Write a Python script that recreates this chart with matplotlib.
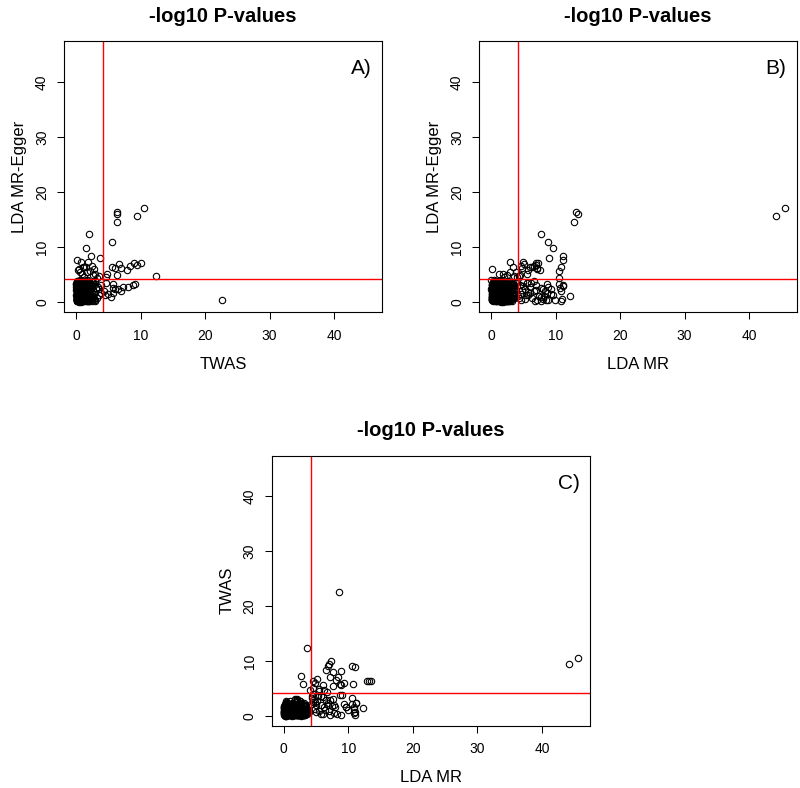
import matplotlib
matplotlib.use("Agg")
import matplotlib.pyplot as plt
import numpy as np

plt.rcParams['font.family'] = ['Liberation Sans', 'DejaVu Sans']

# -log10 p-values for each gene
# strongest genes
twas_top = [10.6, 9.5, 6.4, 6.4, 6.3, 2.0, 5.6, 1.6, 22.6, 12.4, 1.4]
mr_top = [45.6, 44.1, 13.2, 13.5, 12.9, 7.8, 8.8, 9.6, 8.5, 3.6, 12.3]
egger_top = [17.0, 15.7, 16.3, 15.9, 14.5, 12.4, 10.9, 9.8, 0.4, 4.8, 1.0]

# moderate genes
twas_mid = [2.3, 3.7, 0.1, 0.8, 1.3, 2.1, 0.4, 1.9, 1.0, 0.6,
            2.6, 3.0, 1.5, 0.3, 2.8, 3.3, 1.2, 0.9, 2.5, 1.7,
            3.5, 10.0, 9.4, 9.0, 8.3, 7.9, 7.0, 6.7, 6.0, 5.6,
            6.4, 4.6, 4.8, 7.2, 5.7, 9.1, 8.8, 8.1, 7.0, 6.5,
            5.7, 5.7, 6.0, 4.7, 4.5, 5.0, 4.3, 5.4, 1.6, 2.3,
            1.6, 0.1, 0.5, 0.7, 0.2, 0.4, 0.3, 3.8, 3.1, 2.2,
            1.0, 2.0, 3.4, 2.7, 1.3, 3.9, 0.9, 2.4, 1.8, 3.2,
            0.6, 2.9, 1.1, 3.6, 2.5, 0.8, 1.5, 3.5, 2.1, 0.3,
            1.9, 3.0]
mr_mid = [11.2, 9.0, 11.1, 2.9, 10.8, 10.6, 0.1, 5.0, 3.4, 3.9,
          2.5, 1.8, 6.3, 5.8, 7.1, 10.5, 2.0, 1.2, 4.6, 3.0,
          4.4, 7.3, 7.0, 6.9, 6.6, 7.6, 7.2, 5.1, 4.8, 6.0,
          4.5, 4.1, 5.5, 2.6, 3.0, 10.5, 11.1, 8.8, 8.4, 8.1,
          8.7, 10.7, 9.3, 6.2, 5.4, 4.6, 6.7, 7.7, 10.8, 11.2,
          9.6, 8.9, 10.9, 11.0, 7.2, 7.8, 8.2, 8.7, 7.7, 9.3,
          6.4, 5.8, 6.1, 5.2, 4.8, 4.5, 5.5, 6.8, 7.4, 4.3,
          5.0, 6.6, 9.9, 5.7, 4.9, 7.0, 8.0, 5.3, 4.2, 6.0,
          6.9, 4.7]
egger_mid = [8.4, 7.9, 7.6, 7.3, 6.4, 5.6, 5.9, 7.2, 6.3, 5.5,
             4.9, 5.1, 6.3, 5.8, 5.9, 4.4, 4.6, 5.0, 6.6, 5.4,
             4.7, 7.1, 6.7, 7.0, 6.5, 5.8, 6.2, 6.9, 6.1, 6.4,
             4.9, 4.5, 5.1, 2.8, 1.6, 3.3, 3.1, 2.8, 2.0, 2.3,
             3.2, 2.6, 2.4, 3.5, 1.2, 1.5, 2.0, 0.9, 1.9, 2.9,
             1.2, 0.3, 0.2, 0.6, 0.4, 0.1, 1.0, 1.7, 2.5, 1.4,
             0.8, 1.8, 2.7, 0.5, 2.2, 3.1, 3.4, 0.2, 1.1, 0.7,
             2.9, 3.8, 0.4, 1.3, 3.6, 2.1, 0.6, 2.4, 1.0, 1.6,
             3.0, 0.3]

# bulk of genes near the origin (the solid black blob)
twas_bulk = [0.1, 0.3, 0.5, 0.2, 0.8, 1.2, 0.4, 0.6, 1.5, 0.9,
             0.2, 0.7, 1.1, 0.3, 1.8, 0.5, 0.1, 2.2, 0.6, 1.4,
             0.9, 0.4, 0.2, 1.0, 2.6, 0.3, 0.7, 1.3, 0.1, 0.5,
             1.7, 0.8, 0.2, 0.6, 1.1, 0.4, 2.0, 0.3, 0.9, 0.1,
             0.5, 1.6, 0.2, 0.7, 0.4, 1.2, 0.8, 2.4, 0.3, 0.6,
             1.0, 0.2, 0.5, 1.9, 0.1, 0.8, 0.4, 1.4, 0.6, 2.9,
             0.3, 0.9, 0.2, 1.1, 0.5, 0.7, 1.5, 0.1, 0.4, 2.1,
             0.6, 0.3, 1.3, 0.8, 0.2, 1.0, 0.5, 1.7, 0.1, 0.4,
             2.5, 0.7, 0.3, 1.2, 0.9, 0.2, 0.6, 1.6, 0.4, 0.1,
             0.8, 3.1, 0.5, 0.3, 1.4, 0.7, 2.3, 0.2, 1.0, 0.6,
             0.0, 0.4, 1.1, 0.2, 1.9, 0.7, 0.1, 1.4, 0.5, 2.3,
             0.3, 0.9, 1.6, 0.1, 0.5, 1.2, 0.3, 2.0, 0.8, 0.2,
             1.5, 0.6, 2.4, 0.4, 0.1, 1.0, 0.3, 1.7, 0.6, 0.2,
             0.9, 2.1, 0.5, 1.3, 0.0, 0.7, 1.8, 0.2, 0.4, 1.1,
             0.3, 2.6, 0.8, 0.1, 1.5, 0.5, 0.2, 1.2, 0.9, 0.4,
             2.2, 0.6, 0.1, 1.0, 0.3, 1.7, 0.7, 0.2, 2.8, 0.5,
             0.1, 1.3, 0.4, 0.9, 2.0, 0.2, 0.6, 1.5, 0.3, 0.8,
             1.1, 0.0, 2.4, 0.5, 0.2, 1.8, 0.7, 0.4, 1.3, 0.1,
             0.6, 1.6, 0.3, 2.1, 0.9, 0.1, 0.5, 1.0, 0.2, 1.4,
             0.4, 0.8, 1.9, 0.2, 0.7, 2.5, 0.1, 1.2, 0.6, 0.3,
             1.7, 0.5, 0.2, 1.1, 0.4, 0.9, 2.3, 0.0, 0.8, 1.5,
             0.2, 1.0, 0.6, 2.7, 0.3, 1.4, 0.1, 0.7, 1.9, 0.5,
             0.9, 0.3, 1.6, 0.1, 2.2, 0.6, 1.2, 0.4, 0.2, 1.0,
             0.5, 1.8, 0.2, 0.8, 1.3, 0.0, 2.0, 0.6, 1.1, 0.3,
             2.6, 0.4, 0.9, 1.5, 0.1, 0.7, 0.3, 1.7, 0.5, 1.2]
mr_bulk = [0.2, 1.1, 0.5, 2.3, 0.8, 0.1, 1.7, 3.0, 0.4, 1.3,
           2.6, 0.6, 0.3, 1.9, 0.9, 3.4, 0.2, 1.2, 2.1, 0.7,
           0.1, 1.5, 2.8, 0.4, 1.0, 3.2, 0.6, 2.0, 1.4, 0.3,
           0.9, 2.4, 0.5, 1.6, 3.6, 0.2, 0.7, 1.8, 2.9, 1.1,
           0.4, 0.8, 2.2, 0.1, 3.3, 1.0, 1.9, 0.5, 2.7, 0.3,
           1.5, 0.9, 3.1, 0.2, 2.0, 0.6, 1.2, 2.5, 0.4, 1.7,
           3.5, 0.1, 1.3, 0.7, 2.3, 0.3, 0.9, 1.8, 2.6, 0.5,
           1.0, 2.9, 0.2, 1.4, 0.6, 3.7, 0.8, 1.1, 2.2, 0.4,
           0.3, 1.6, 3.0, 0.5, 1.9, 0.7, 2.4, 0.1, 1.2, 3.3,
           0.6, 2.1, 1.5, 0.2, 0.8, 2.7, 0.4, 1.3, 0.9, 3.8,
           0.3, 2.1, 1.0, 3.2, 0.6, 1.7, 2.8, 0.1, 1.3, 2.4,
           0.8, 3.5, 1.9, 0.4, 2.6, 1.1, 3.0, 0.2, 1.5, 2.2,
           0.7, 2.9, 1.2, 3.4, 0.5, 1.8, 2.5, 0.0, 1.4, 3.1,
           0.9, 2.0, 1.6, 0.3, 2.7, 1.0, 3.3, 0.6, 2.3, 1.2,
           3.6, 0.4, 1.7, 2.6, 0.1, 1.1, 2.9, 0.8, 2.0, 1.5,
           0.2, 3.0, 1.3, 2.4, 0.5, 1.9, 3.2, 0.9, 2.1, 0.6,
           1.6, 2.8, 0.3, 1.0, 3.5, 0.7, 2.2, 1.4, 0.1, 2.6,
           1.8, 0.4, 3.1, 1.2, 2.5, 0.8, 1.5, 3.4, 0.2, 2.0,
           1.1, 2.7, 0.6, 1.9, 3.0, 0.3, 2.3, 1.3, 0.9, 3.3,
           0.5, 1.7, 2.9, 0.1, 1.4, 2.1, 0.8, 3.6, 1.0, 2.4,
           0.4, 2.2, 1.6, 3.1, 0.7, 1.2, 2.7, 0.2, 1.8, 0.9,
           3.2, 1.5, 0.3, 2.5, 1.1, 0.6, 2.0, 3.4, 1.3, 0.0,
           2.8, 0.9, 1.7, 0.4, 3.0, 2.2, 1.0, 0.5, 2.6, 1.4,
           0.2, 3.3, 1.9, 0.8, 2.4, 1.2, 0.3, 2.9, 1.6, 0.7,
           2.1, 1.3, 3.5, 0.6, 1.8, 0.1, 2.6, 1.0, 3.1, 0.4]
egger_bulk = [0.5, 2.1, 1.3, 0.2, 3.4, 0.8, 1.9, 0.4, 2.7, 1.1,
              3.8, 0.6, 1.6, 2.4, 0.1, 1.0, 3.0, 0.7, 1.8, 2.9,
              0.3, 1.4, 2.2, 3.6, 0.9, 0.2, 1.7, 2.6, 0.5, 3.2,
              1.2, 0.4, 2.0, 3.9, 0.7, 1.5, 0.1, 2.8, 1.0, 2.3,
              3.5, 0.6, 1.3, 0.3, 2.5, 1.9, 0.8, 3.1, 0.2, 1.6,
              2.4, 1.1, 0.4, 1.8, 3.7, 0.5, 2.9, 0.9, 1.4, 0.2,
              2.2, 3.3, 0.7, 1.2, 0.1, 2.7, 1.6, 0.3, 3.0, 1.0,
              0.6, 1.9, 2.5, 0.4, 3.6, 1.3, 0.8, 2.1, 0.2, 1.7,
              2.9, 0.5, 1.1, 3.4, 0.3, 2.3, 1.5, 0.7, 2.0, 1.2,
              0.1, 2.6, 3.2, 0.9, 1.8, 0.4, 1.4, 2.8, 0.6, 3.5,
              1.2, 3.3, 0.4, 2.5, 1.7, 3.8, 0.9, 2.0, 0.1, 3.0,
              1.4, 2.7, 0.6, 3.6, 1.9, 0.3, 2.3, 1.0, 3.1, 0.8,
              2.9, 0.2, 1.6, 3.4, 1.1, 2.6, 0.5, 3.9, 1.8, 0.7,
              2.2, 3.5, 0.0, 1.5, 2.8, 0.9, 3.2, 1.3, 2.4, 0.4,
              1.7, 3.7, 0.6, 2.1, 1.0, 3.0, 0.3, 2.6, 1.4, 3.4,
              0.8, 2.3, 1.9, 0.2, 3.6, 1.2, 2.8, 0.5, 3.3, 1.6,
              2.5, 0.1, 3.1, 1.8, 0.7, 2.9, 1.1, 3.8, 0.4, 2.0,
              1.5, 3.2, 0.9, 2.4, 0.2, 3.5, 1.3, 2.7, 0.6, 1.9,
              3.0, 0.8, 2.2, 1.0, 3.7, 0.3, 1.7, 2.6, 1.2, 3.3,
              0.5, 2.0, 3.4, 1.4, 0.1, 2.8, 0.9, 3.1, 1.6, 2.3,
              3.9, 1.1, 0.4, 2.5, 1.8, 0.7, 3.2, 2.1, 0.0, 1.3,
              2.7, 0.6, 3.6, 1.5, 2.2, 0.9, 1.0, 3.0, 0.3, 2.4,
              1.9, 3.4, 0.2, 2.9, 1.2, 3.7, 0.8, 1.6, 2.5, 0.5,
              3.1, 1.4, 2.6, 0.4, 1.7, 3.3, 0.1, 2.3, 1.0, 3.8,
              0.7, 2.1, 1.5, 3.5, 0.6, 2.8, 1.9, 0.2, 3.2, 1.1]

threshold = 4.2
tick_vals = [0, 10, 20, 30, 40]

twas = np.array(twas_top + twas_mid + twas_bulk)
mr = np.array(mr_top + mr_mid + mr_bulk)
egger = np.array(egger_top + egger_mid + egger_bulk)

top = max(twas.max(), mr.max(), egger.max())
lim = (-0.04 * top, top * 1.04)

fig = plt.figure(figsize=(8.0, 7.88), dpi=100)

panels = [
    ([0.0804, 0.6041, 0.3971, 0.3439], twas, egger, 'TWAS', 'LDA MR-Egger', 'A)'),
    ([0.5991, 0.6041, 0.3971, 0.3439], mr, egger, 'LDA MR', 'LDA MR-Egger', 'B)'),
    ([0.3400, 0.0791, 0.3975, 0.3426], mr, twas, 'LDA MR', 'TWAS', 'C)'),
]

for rect, x, y, xlab, ylab, letter in panels:
    ax = fig.add_axes(rect)
    ax.plot(x, y, 'o', mfc='none', mec='black', ms=4.6, mew=0.8)
    ax.axvline(threshold, color='red', lw=1.0)
    ax.axhline(threshold, color='red', lw=1.0)
    ax.set_xlim(lim)
    ax.set_ylim(lim)
    ax.set_xticks(tick_vals)
    ax.set_yticks(tick_vals)
    ax.tick_params(direction='out', length=5, width=0.75, labelsize=10)
    ax.tick_params(axis='x', pad=7)
    ax.tick_params(axis='y', pad=6)
    for lbl in ax.get_yticklabels():
        lbl.set_rotation(90)
        lbl.set_va('center')
    for sp in ax.spines.values():
        sp.set_linewidth(0.8)
    ax.set_title('-log10 P-values', fontsize=14.5, fontweight='bold', pad=14)
    ax.set_xlabel(xlab, fontsize=12, labelpad=10)
    ax.set_ylabel(ylab, fontsize=12, labelpad=6)
    ax.text(44.2, 42.4, letter, fontsize=15, ha='center', va='center')

fig.savefig('out.png', dpi=100)
